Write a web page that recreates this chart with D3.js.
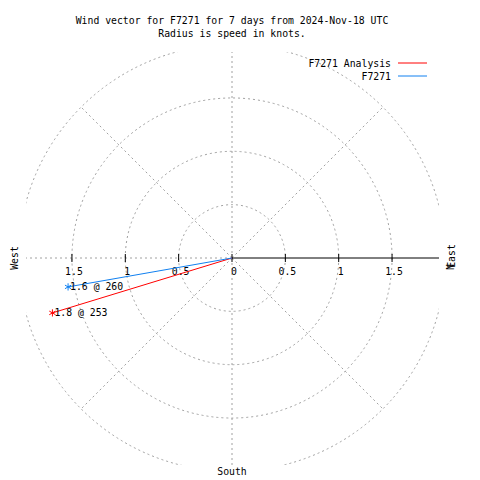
<!DOCTYPE html>
<html><head><meta charset="utf-8">
<script src="https://cdn.jsdelivr.net/npm/d3@7"></script>
<style>body{margin:0;background:#fff}svg{display:block}text{font-family:"DejaVu Sans Mono",monospace;font-size:9.8px;fill:#000}</style>
</head><body><script>
const titleLines = ["Wind vector for F7271 for 7 days from 2024-Nov-18 UTC", "Radius is speed in knots."];
const seriesNames = ["F7271 Analysis", "F7271"];
const seriesColors = ["#ff0000", "#1080f0"];
const speeds = [1.76, 1.56];
const directions = [253, 260];
const radialTicks = [0, 0.5, 1, 1.5];
const gridCircles = [0.5, 1, 1.5, 2];
const gridAngles = [0, 45, 90, 135, 180, 225, 270, 315];

const W = 480, H = 480, cx = 232, cy = 258;
const clip = {x0: 26, x1: 439, y0: 52, y1: 465};
const r = d3.scaleLinear().domain([0, 2]).range([0, 213.4]);
const svg = d3.select("body").append("svg").attr("width", W).attr("height", H);
svg.append("defs").append("clipPath").attr("id", "pc").append("rect")
  .attr("x", clip.x0).attr("y", clip.y0).attr("width", clip.x1 - clip.x0).attr("height", clip.y1 - clip.y0);

const grid = svg.append("g").attr("clip-path", "url(#pc)")
  .attr("fill", "none").attr("stroke", "#a0a0a0").attr("stroke-dasharray", "2,3");
grid.selectAll("circle").data(gridCircles).join("circle")
  .attr("cx", cx).attr("cy", cy).attr("r", d => r(d));
grid.selectAll("line").data(gridAngles.filter(a => a !== 90)).join("line")
  .attr("x1", cx).attr("y1", cy)
  .attr("x2", a => cx + r(2) * Math.sin(a * Math.PI / 180))
  .attr("y2", a => cy - r(2) * Math.cos(a * Math.PI / 180));

// polar axis
svg.append("line").attr("x1", cx).attr("y1", cy).attr("x2", clip.x1).attr("y2", cy).attr("stroke", "#000");
const tk = svg.append("g");
const allTicks = radialTicks.flatMap(t => t === 0 ? [{v: 0, s: 1}] : [{v: t, s: 1}, {v: t, s: -1}]);
tk.selectAll("line").data(allTicks).join("line")
  .attr("x1", d => cx + d.s * r(d.v)).attr("x2", d => cx + d.s * r(d.v))
  .attr("y1", cy - 4).attr("y2", cy + 4).attr("stroke", "#000");
// left labels
tk.selectAll("text.l").data(radialTicks.filter(t => t > 0)).join("text").attr("class", "l")
  .attr("x", d => cx - r(d) + 2).attr("y", cy + 17).attr("text-anchor", "middle").text(d => d3.format("")(d));
// right labels
tk.selectAll("text.r").data(radialTicks).join("text").attr("class", "r")
  .attr("x", d => cx + r(d) + 2).attr("y", cy + 17).attr("text-anchor", "middle").text(d => d3.format("")(d));

// titles
svg.selectAll("text.title").data(titleLines).join("text").attr("class", "title")
  .attr("x", 232).attr("y", (d, i) => 24 + i * 13).attr("text-anchor", "middle").text(d => d);

// compass labels
svg.append("text").attr("transform", `translate(18,${cy}) rotate(-90)`).attr("text-anchor", "middle").text("West");
svg.append("text").attr("transform", `translate(455,${cy - 2}) rotate(-90)`).attr("text-anchor", "middle").text("East");
svg.append("text").attr("transform", `translate(454,${cy + 12}) rotate(-90)`).attr("text-anchor", "start").attr("font-size", "8px").text("N");
svg.append("text").attr("x", cx).attr("y", 475).attr("text-anchor", "middle").text("South");

// legend
const lg = svg.append("g");
seriesNames.forEach((n, i) => {
  const y = 63 + i * 13;
  lg.append("text").attr("x", 391).attr("y", y + 3.5).attr("text-anchor", "end").text(n);
  lg.append("line").attr("x1", 398).attr("x2", 427).attr("y1", y).attr("y2", y).attr("stroke", seriesColors[i]);
});

// vectors
const sym = d3.symbol(d3.symbolAsterisk, 36);
speeds.forEach((s, i) => {
  const a = directions[i] * Math.PI / 180;
  const x = cx + r(s) * Math.sin(a), y = cy - r(s) * Math.cos(a);
  svg.append("line").attr("x1", cx).attr("y1", cy).attr("x2", x).attr("y2", y).attr("stroke", seriesColors[i]);
  svg.append("path").attr("d", sym()).attr("transform", `translate(${x},${y})`).attr("stroke", seriesColors[i]).attr("fill", "none");
  svg.append("text").attr("x", x + 2).attr("y", y + 3.5).text(d3.format(".1f")(s) + " @ " + directions[i]);
});
</script></body></html>
